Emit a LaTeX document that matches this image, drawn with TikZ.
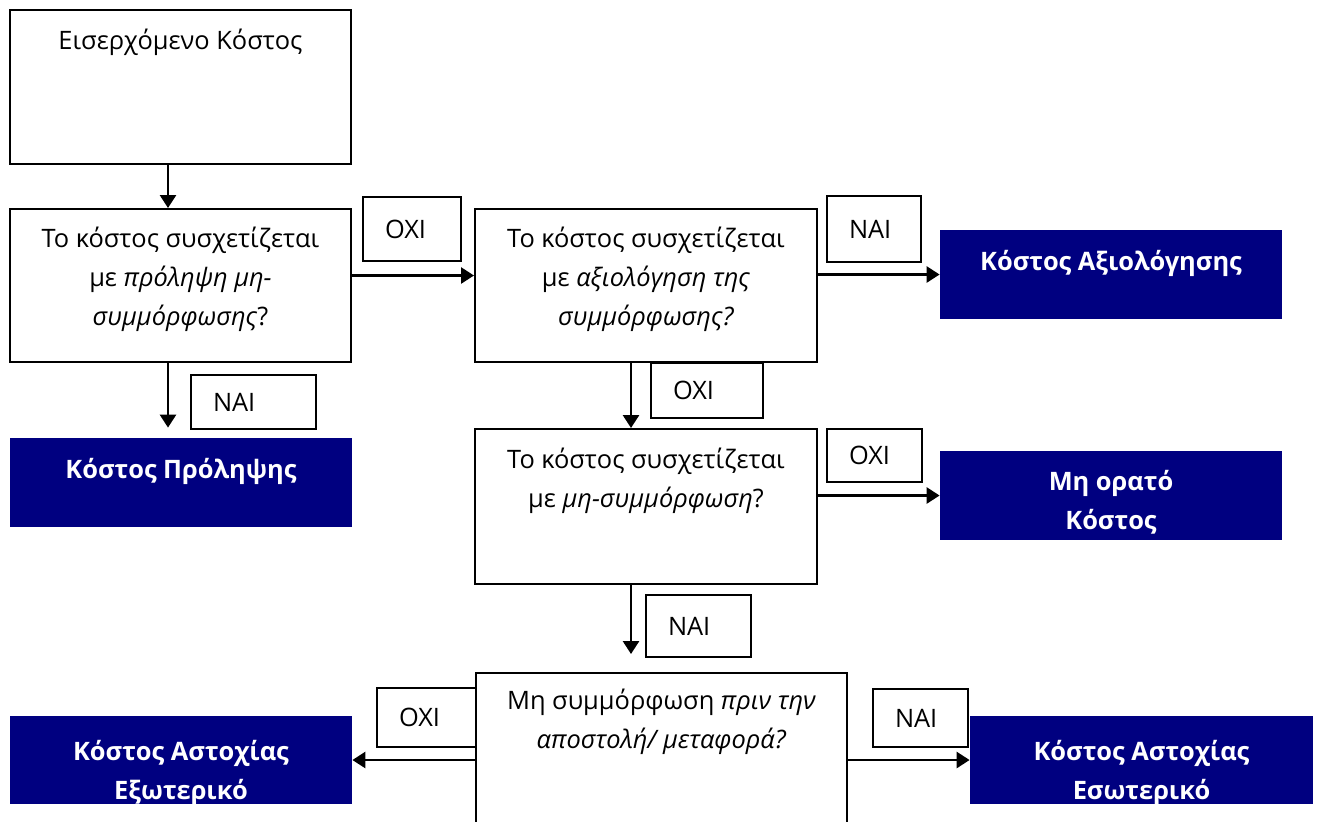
\documentclass[tikz,border=0pt]{standalone}
\usepackage{fontspec}
\setmainfont{Open Sans}
\usetikzlibrary{arrows.meta,calc}
\definecolor{navyblue}{HTML}{000080}
\begin{document}
\begin{tikzpicture}[x=0.5pt,y=-0.5pt,
  qbox/.style={draw, line width=1pt, inner sep=0pt},
  bbox/.style={fill=navyblue, draw=none, inner sep=0pt, minimum width=171pt, minimum height=44.5pt},
  lbl/.style={draw, line width=0.9pt, inner xsep=11pt, inner ysep=0pt, align=left,
    font=\fontsize{12.7}{15}\selectfont},
  txt/.style={align=center, inner sep=0pt, anchor=north,
    font=\fontsize{12.7}{19.5}\selectfont},
  btxt/.style={align=center, inner sep=0pt, anchor=north, text=white,
    font=\fontsize{12.7}{19.5}\selectfont\bfseries},
  arr/.style={line width=1.35pt, -{Triangle[length=6.5pt,width=8pt]}}
]
\clip (0,0) rectangle (1320,821);
\fill[white] (0,0) rectangle (1320,821);

% question boxes
\node[qbox, minimum width=170.5pt, minimum height=77pt] (in) at (180.5,87) {};
\node[qbox, minimum width=170.5pt, minimum height=76.5pt] (q1) at (180.5,285.5) {};
\node[qbox, minimum width=171pt, minimum height=76.5pt] (q2) at (646,285.5) {};
\node[qbox, minimum width=171pt, minimum height=77.5pt] (q3) at (646,506.5) {};
\node[qbox, minimum width=185.5pt, minimum height=113.5pt] (q4) at (661.5,786.5) {};

\node[txt] (intx) at ($(in.north)+(0,12.7)$) {\strut Εισερχόμενο Κόστος};
\node[txt] (q1tx) at ($(q1.north)+(0,11.7)$) {\strut Το κόστος συσχετίζεται\\ με \textit{πρόληψη μη-}\\ \textit{συμμόρφωσης}?};
\node[txt] (q2tx) at ($(q2.north)+(0,11.7)$) {\strut Το κόστος συσχετίζεται\\ με \textit{αξιολόγηση της}\\ \textit{συμμόρφωσης?}};
\node[txt] (q3tx) at ($(q3.north)+(0,12.7)$) {\strut Το κόστος συσχετίζεται\\ με \textit{μη-συμμόρφωση}?};
\node[txt] (q4tx) at ($(q4.north)+(0,9.7)$) {\strut Μη συμμόρφωση \textit{πριν την}\\ \textit{αποστολή/ μεταφορά?}};

% result boxes
\node[bbox] (axi) at (1111,274.5) {};
\node[bbox] (prol) at (181,482.5) {};
\node[bbox] (orato) at (1111,495.5) {};
\node[bbox, minimum height=44pt] (extl) at (181,760) {};
\node[bbox, minimum height=44pt, minimum width=171.5pt] (intl) at (1141.5,760) {};

\node[btxt] (axitx) at ($(axi.north)+(0,12.7)$) {\strut Κόστος Αξιολόγησης};
\node[btxt] (proltx) at ($(prol.north)+(0,12.7)$) {\strut Κόστος Πρόληψης};
\node[btxt] (oratotx) at ($(orato.north)+(0,11.7)$) {\strut Μη ορατό\\ Κόστος};
\begin{scope}
  \clip (extl.north west) rectangle (extl.south east);
  \node[btxt] (extltx) at ($(extl.north)+(0,16.7)$) {\strut Κόστος Αστοχίας\\ Εξωτερικό};
\end{scope}
\begin{scope}
  \clip (intl.north west) rectangle (intl.south east);
  \node[btxt] (intltx) at ($(intl.north)+(0,16.7)$) {\strut Κόστος Αστοχίας\\ Εσωτερικό};
\end{scope}

% answer labels
\node[lbl, text width=27pt, minimum height=32pt] (l1) at (412,229) {ΟΧΙ};
\node[lbl, text width=25pt, minimum height=33pt] (l2) at (874,229) {ΝΑΙ};
\node[lbl, text width=40.5pt, minimum height=27pt] (l3) at (253.5,402) {ΝΑΙ};
\node[lbl, text width=34pt, minimum height=27.5pt] (l4) at (707,390.5) {ΟΧΙ};
\node[lbl, text width=25.5pt, minimum height=26.5pt] (l5) at (874.5,455.5) {ΟΧΙ};
\node[lbl, text width=30.5pt, minimum height=31pt] (l6) at (698.5,626) {ΝΑΙ};
\node[lbl, text width=27.5pt, minimum height=29.5pt] (l7) at (426.5,717.5) {ΟΧΙ};
\node[lbl, text width=25.5pt, minimum height=29pt] (l8) at (920.5,718) {ΝΑΙ};

% connectors
\draw[arr] ($(in.south)+(-12.5,0)$) coordinate (a0) -- (a0 |- q1.north);
\draw[arr] ($(q1.east)+(0,-10)$) coordinate (a1) -- (a1 -| q2.west);
\draw[arr] (axi.west -| q2.east) -- (axi.west);
\draw[arr, shorten >=5pt] ($(q1.south)+(-12.5,0)$) coordinate (a2) -- (a2 |- prol.north);
\draw[arr] ($(q2.south)+(-15,0)$) coordinate (a3) -- (a3 |- q3.north);
\draw[arr] (orato.west -| q3.east) -- (orato.west);
\draw[arr, shorten >=9pt] ($(q3.south)+(-15,0)$) coordinate (a4) -- (a4 |- q4.north);
\draw[arr] (extl.east -| q4.west) -- (extl.east);
\draw[arr] (intl.west -| q4.east) -- (intl.west);
\end{tikzpicture}
\end{document}
